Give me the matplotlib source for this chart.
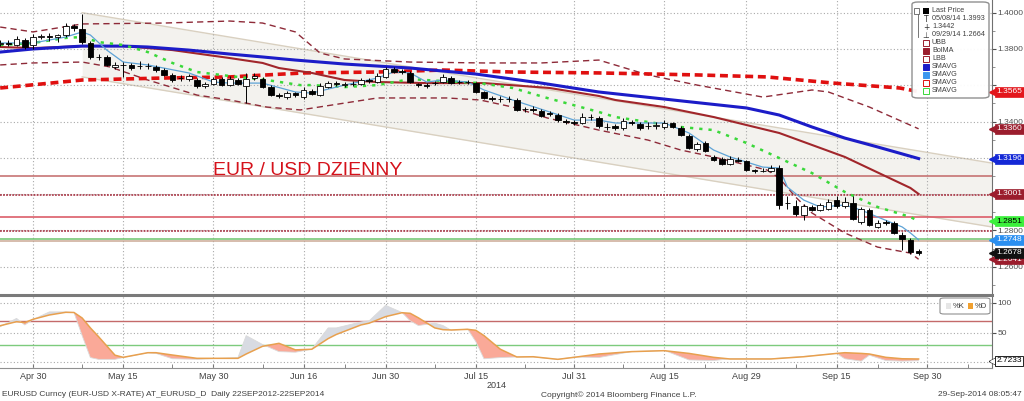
import matplotlib
matplotlib.use('Agg')
import matplotlib.pyplot as plt
import matplotlib.transforms as mtransforms
from matplotlib.patches import FancyBboxPatch, Rectangle
from matplotlib.lines import Line2D
import numpy as np

plt.rcParams['font.family'] = ['Liberation Sans', 'DejaVu Sans']

# trading days, 0 = 30 Apr 2014, 108 = 29 Sep 2014
day = np.arange(-4, 109)

opn = [1.3830, 1.3835, 1.3824, 1.3851, 1.3824, 1.3868, 1.3870, 1.3868, 1.3875, 1.3928,
       1.3912, 1.3835, 1.3758, 1.3758, 1.3702, 1.3713, 1.3713, 1.3705, 1.3707, 1.3702,
       1.3686, 1.3658, 1.3640, 1.3635, 1.3631, 1.3598, 1.3609, 1.3636, 1.3603, 1.3631,
       1.3598, 1.3642, 1.3636, 1.3592, 1.3545, 1.3537, 1.3555, 1.3537, 1.3570, 1.3548,
       1.3592, 1.3612, 1.3600, 1.3607, 1.3609, 1.3630, 1.3620, 1.3648, 1.3691, 1.3678,
       1.3670, 1.3606, 1.3600, 1.3610, 1.3620, 1.3642, 1.3620, 1.3620, 1.3614, 1.3565,
       1.3530, 1.3526, 1.3526, 1.3521, 1.3468, 1.3468, 1.3460, 1.3446, 1.3438, 1.3402,
       1.3396, 1.3394, 1.3427, 1.3422, 1.3372, 1.3377, 1.3366, 1.3398, 1.3388, 1.3377,
       1.3377, 1.3372, 1.3394, 1.3366, 1.3322, 1.3250, 1.3284, 1.3207, 1.3196, 1.3168,
       1.3190, 1.3180, 1.3132, 1.3130, 1.3130, 1.3146, 1.2950, 1.2936, 1.2887, 1.2931,
       1.2915, 1.2920, 1.2969, 1.2936, 1.2953, 1.2849, 1.2915, 1.2821, 1.2845, 1.2843,
       1.2777, 1.2749, 1.2684]
close = [1.3835, 1.3830, 1.3857, 1.3813, 1.3868, 1.3870, 1.3868, 1.3875, 1.3928, 1.3918,
         1.3840, 1.3758, 1.3756, 1.3713, 1.3713, 1.3710, 1.3697, 1.3707, 1.3705, 1.3686,
         1.3658, 1.3631, 1.3642, 1.3650, 1.3598, 1.3609, 1.3636, 1.3603, 1.3636, 1.3609,
         1.3636, 1.3653, 1.3592, 1.3548, 1.3543, 1.3559, 1.3545, 1.3576, 1.3554, 1.3598,
         1.3614, 1.3605, 1.3609, 1.3609, 1.3631, 1.3622, 1.3653, 1.3691, 1.3675, 1.3672,
         1.3620, 1.3602, 1.3598, 1.3614, 1.3647, 1.3614, 1.3618, 1.3618, 1.3565, 1.3532,
         1.3526, 1.3524, 1.3522, 1.3466, 1.3470, 1.3465, 1.3433, 1.3443, 1.3410, 1.3399,
         1.3394, 1.3427, 1.3425, 1.3377, 1.3370, 1.3366, 1.3405, 1.3390, 1.3366, 1.3375,
         1.3379, 1.3394, 1.3372, 1.3328, 1.3256, 1.3278, 1.3240, 1.3190, 1.3168, 1.3196,
         1.3182, 1.3135, 1.3130, 1.3128, 1.3146, 1.2942, 1.2953, 1.2892, 1.2936, 1.2915,
         1.2942, 1.2958, 1.2936, 1.2958, 1.2865, 1.2920, 1.2832, 1.2843, 1.2843, 1.2788,
         1.2755, 1.2680, 1.2678]
high = [1.3850, 1.3850, 1.3870, 1.3860, 1.3885, 1.3885, 1.3890, 1.3885, 1.3945, 1.3940,
        1.3993, 1.3845, 1.3775, 1.3765, 1.3730, 1.3730, 1.3725, 1.3735, 1.3725, 1.3712,
        1.3695, 1.3665, 1.3655, 1.3660, 1.3640, 1.3620, 1.3645, 1.3645, 1.3650, 1.3640,
        1.3670, 1.3670, 1.3645, 1.3600, 1.3560, 1.3570, 1.3565, 1.3590, 1.3580, 1.3610,
        1.3625, 1.3625, 1.3620, 1.3625, 1.3640, 1.3640, 1.3665, 1.3700, 1.3700, 1.3690,
        1.3680, 1.3615, 1.3615, 1.3625, 1.3660, 1.3650, 1.3630, 1.3630, 1.3620, 1.3570,
        1.3540, 1.3540, 1.3540, 1.3530, 1.3480, 1.3485, 1.3470, 1.3460, 1.3445, 1.3415,
        1.3410, 1.3445, 1.3440, 1.3430, 1.3390, 1.3385, 1.3420, 1.3410, 1.3395, 1.3395,
        1.3395, 1.3410, 1.3400, 1.3375, 1.3330, 1.3290, 1.3295, 1.3215, 1.3205, 1.3210,
        1.3205, 1.3190, 1.3140, 1.3145, 1.3160, 1.3160, 1.2990, 1.2970, 1.2945, 1.2940,
        1.2950, 1.2975, 1.2990, 1.2985, 1.2990, 1.2930, 1.2925, 1.2855, 1.2860, 1.2850,
        1.2790, 1.2760, 1.2695]
low = [1.3815, 1.3815, 1.3815, 1.3800, 1.3800, 1.3855, 1.3845, 1.3840, 1.3865, 1.3900,
       1.3830, 1.3745, 1.3740, 1.3705, 1.3690, 1.3648, 1.3685, 1.3690, 1.3690, 1.3675,
       1.3650, 1.3620, 1.3625, 1.3625, 1.3585, 1.3585, 1.3600, 1.3595, 1.3595, 1.3600,
       1.3503, 1.3630, 1.3585, 1.3540, 1.3530, 1.3525, 1.3535, 1.3525, 1.3545, 1.3540,
       1.3585, 1.3595, 1.3590, 1.3595, 1.3600, 1.3612, 1.3610, 1.3640, 1.3665, 1.3660,
       1.3610, 1.3590, 1.3585, 1.3600, 1.3610, 1.3605, 1.3605, 1.3605, 1.3555, 1.3525,
       1.3515, 1.3510, 1.3510, 1.3460, 1.3455, 1.3455, 1.3425, 1.3430, 1.3400, 1.3385,
       1.3380, 1.3385, 1.3410, 1.3365, 1.3355, 1.3355, 1.3355, 1.3380, 1.3355, 1.3360,
       1.3360, 1.3360, 1.3365, 1.3320, 1.3250, 1.3240, 1.3230, 1.3180, 1.3160, 1.3160,
       1.3175, 1.3128, 1.3115, 1.3120, 1.3120, 1.2920, 1.2920, 1.2880, 1.2860, 1.2905,
       1.2905, 1.2910, 1.2925, 1.2925, 1.2860, 1.2835, 1.2825, 1.2815, 1.2830, 1.2780,
       1.2694, 1.2670, 1.2664]

# overlays: (trading day, price)
sma_blue_x = [-4, 0, 6, 11, 14, 19, 24, 28, 32, 38, 46, 54, 62, 69, 78, 87, 91, 95, 99, 103, 108]
sma_blue_y = [1.3783, 1.3800, 1.3816, 1.3816, 1.3811, 1.3794, 1.3772, 1.3756, 1.3739, 1.3717,
              1.3695, 1.3662, 1.3612, 1.3563, 1.3519, 1.3475, 1.3436, 1.3370, 1.3309, 1.3260, 1.3196]
bolma_x = [-4, 0, 6, 11, 17, 24, 28, 30, 34, 38, 42, 48, 55, 63, 69, 71, 77, 83, 91, 99, 107, 108]
bolma_y = [1.3811, 1.3805, 1.3816, 1.3816, 1.3794, 1.3750, 1.3723, 1.3695, 1.3668, 1.3629,
           1.3618, 1.3612, 1.3612, 1.3585, 1.3541, 1.3519, 1.3480, 1.3425, 1.3337, 1.3205, 1.3034, 1.3001]
ubb_x = [-4, 0, 6, 16, 24, 28, 32, 35, 38, 46, 55, 62, 69, 75, 81, 89, 95, 97, 102, 108]
ubb_y = [1.3921, 1.3894, 1.3938, 1.3943, 1.3954, 1.3943, 1.3894, 1.3778, 1.3745, 1.3728,
         1.3723, 1.3723, 1.3739, 1.3657, 1.3601, 1.3535, 1.3574, 1.3563, 1.3480, 1.3360]
lbb_x = [-4, 0, 6, 9.4, 14, 20, 24, 28.5, 32.6, 42, 50.5, 54.5, 58.5, 62.7, 69, 75, 79, 83,
         89.5, 91, 93, 95, 99, 103, 107, 108]
lbb_y = [1.3712, 1.3723, 1.3728, 1.3701, 1.3629, 1.3546, 1.3519, 1.3480, 1.3464, 1.3530,
         1.3530, 1.3519, 1.3480, 1.3420, 1.3353, 1.3298, 1.3243, 1.3205, 1.3133, 1.3089,
         1.2984, 1.2896, 1.2786, 1.2708, 1.2675, 1.2641]
sma_green_x = [-4, 0, 4, 6, 8, 11, 14, 17, 20, 24, 28.5, 32.6, 34, 38, 42, 46, 50, 54.5, 58.5,
               62.7, 69, 71, 79, 83, 87, 91, 95, 99, 103, 107, 108]
sma_green_y = [1.3822, 1.3833, 1.3861, 1.3866, 1.3838, 1.3822, 1.3783, 1.3723, 1.3673, 1.3651,
               1.3629, 1.3601, 1.3601, 1.3590, 1.3601, 1.3634, 1.3623, 1.3612, 1.3585, 1.3530,
               1.3453, 1.3425, 1.3370, 1.3353, 1.3282, 1.3199, 1.3116, 1.3012, 1.2929, 1.2874, 1.2851]
sma_lblue_x = [-4, 0, 4, 6, 7, 9, 11, 14, 19, 22, 24, 28, 32, 34, 38, 42, 44, 46, 48, 50, 53,
               55, 58.5, 63, 66, 69, 71, 77, 80, 83, 85, 89, 91, 92, 94, 96, 99, 101, 103, 106, 107, 108]
sma_lblue_y = [1.3833, 1.3833, 1.3866, 1.3894, 1.3877, 1.3794, 1.3728, 1.3712, 1.3668, 1.3618,
               1.3612, 1.3612, 1.3563, 1.3557, 1.3601, 1.3640, 1.3673, 1.3668, 1.3618, 1.3629,
               1.3618, 1.3574, 1.3519, 1.3453, 1.3408, 1.3408, 1.3392, 1.3392, 1.3337, 1.3243,
               1.3205, 1.3149, 1.3144, 1.3039, 1.2967, 1.2929, 1.2940, 1.2912, 1.2874, 1.2819,
               1.2786, 1.2748]
sma_red_x = [-4, 6, 16, 24, 33, 42, 50, 58.5, 69, 81, 89.5, 97.6, 105.7, 108]
sma_red_y = [1.3585, 1.3629, 1.3640, 1.3646, 1.3668, 1.3673, 1.3684, 1.3673, 1.3668, 1.3657,
             1.3646, 1.3612, 1.3585, 1.3565]

channel_x = [6, 116.95]
channel_top = [1.4000, 1.3171]
channel_bot = [1.3646, 1.2819]

level_vals = [1.3100, 1.2993, 1.2872, 1.2797, 1.2751, 1.2740]
level_colors = ['#c26868', '#a32637', '#d9505c', '#a32637', '#6cc46c', '#cba996']
level_styles = ['-', (0, (1.2, 0.8)), '-', (0, (1.2, 0.8)), '-', '-']

tag_vals = [1.3565, 1.3360, 1.3196, 1.3001, 1.2851, 1.2748, 1.2641, 1.2678]
tag_fill = ['#e3161c', '#9b1d2d', '#1428d6', '#9b1d2d', '#3cf03c', '#2b8ff0', '#9b1d2d', '#111111']
tag_ink = ['white', 'white', 'white', 'white', 'black', 'white', 'white', 'white']

price_ticks = [1.26, 1.28, 1.30, 1.32, 1.34, 1.36, 1.38, 1.40]
price_tick_lbl = ['1.2600', '1.2800', '', '', '1.3400', '', '1.3800', '1.4000']

# stochastics
stoch_x = [-4, -2, -1, 0, 2, 4, 5, 6, 7, 8, 10, 11, 14, 15, 17, 20, 25, 26, 28, 30, 32, 34, 36, 37,
           40, 41, 43, 45, 46, 47, 49, 50, 51, 53, 54, 55, 57, 59, 61, 64, 66, 69, 73, 77, 80, 83,
           85, 90, 94, 98, 99, 101, 102, 104, 106, 108]
pct_d = [61.7, 68.5, 67, 72.5, 79.8, 84.3, 84, 74.7, 58, 43.2, 12, 8.4, 16.2, 16.2, 12.3, 6.7,
         6.7, 14, 27, 32, 21, 22, 40, 47, 63, 66, 77, 83.6, 82.6, 75, 58, 55, 54.5, 55.6, 54, 45,
         22, 9, 9.4, 5, 8.4, 14, 18, 19.6, 15, 8.4, 5.6, 5.6, 9.4, 15, 16.2, 15, 14, 8.4, 6, 5.6]
pct_k = [60, 74, 63, 72, 85, 85, 84, 45, 8, 5, 5, 8, 16, 15, 6, 5, 8, 45, 30, 18, 17, 22, 58, 58,
         68, 70, 96, 84, 70, 62, 66, 62, 54, 56, 35, 6, 8, 9, 9, 5, 9, 8, 18, 20, 4, 3, 6, 6, 10,
         15, 6, 2, 12, 3, 2, 2.7233]

date_pos = [0, 11, 22, 33, 43, 54, 66, 77, 87, 98, 109]
date_lbl = ['Apr 30', 'May 15', 'May 30', 'Jun 16', 'Jun 30', 'Jul 15', 'Jul 31', 'Aug 15',
            'Aug 29', 'Sep 15', 'Sep 30']
week_pos = [6, 17, 28, 38, 49, 60, 72, 82, 93, 103, 114]

legend_rows = ['Last Price', '05/08/14 1.3993', '1.3442', '09/29/14 1.2664', 'UBB', 'BolMA',
               'LBB', 'SMAVG', 'SMAVG', 'SMAVG', 'SMAVG']

W, H = 1024, 401
def fx(x): return x / W
def fy(y): return 1 - y / H

fig = plt.figure(figsize=(W / 100, H / 100), dpi=100)
ax = fig.add_axes([0, fy(295), fx(992), 295 / H])
ax2 = fig.add_axes([0, fy(368), fx(992), 72 / H])
for a in (ax, ax2):
    a.set_xlim(-4.02, 116.95)
    for s in ('top', 'left'):
        a.spines[s].set_visible(False)
    a.spines['right'].set_color('#707070')
ax.spines['bottom'].set_visible(False)
ax2.spines['bottom'].set_color('#909090')
ax.set_ylim(1.2444, 1.4070)
ax2.set_ylim(-9.6, 111.8)

grid_kw = dict(color='#a9a9a9', lw=0.8, ls=(0, (1, 2)), zorder=1.6)
for xv in date_pos:
    ax.axvline(xv, **grid_kw)
    ax2.axvline(xv, **grid_kw)
for yv in price_ticks:
    ax.axhline(yv, **grid_kw)
for yv in (0, 50, 100):
    ax2.axhline(yv, **grid_kw)

# regression channel
ax.fill_between(channel_x, channel_bot, channel_top, color='#f3f2ee', lw=0, zorder=1)
ax.plot(channel_x, channel_top, color='#d9d0c0', lw=1, zorder=1.5)
ax.plot(channel_x, channel_bot, color='#d9d0c0', lw=1, zorder=1.5)

for v, col, st in zip(level_vals, level_colors, level_styles):
    ax.axhline(v, color=col, lw=1.1, ls=st, zorder=2)

ax.plot(ubb_x, ubb_y, color='#8e2a38', lw=1.0, dashes=(4.5, 3), zorder=3)
ax.plot(lbb_x, lbb_y, color='#8e2a38', lw=1.0, dashes=(4.5, 3), zorder=3)
ax.plot(sma_red_x, sma_red_y, color='#e01010', lw=2.6, dashes=(2.2, 1.3), zorder=3.2)
ax.plot(bolma_x, bolma_y, color='#a1262b', lw=1.5, zorder=3.3)
ax.plot(sma_blue_x, sma_blue_y, color='#1c1cc8', lw=2.2, zorder=3.4)
ax.plot(sma_green_x, sma_green_y, color='#3ad83a', lw=1.8, dashes=(1.3, 2.4), zorder=3.5)
ax.plot(sma_lblue_x, sma_lblue_y, color='#5ea3d6', lw=0.9, zorder=3.6)

# candles
o, c, h, l = (np.array(v) for v in (opn, close, high, low))
up = c >= o
ax.vlines(day, l, h, color='black', lw=0.7, zorder=6)
bot = np.minimum(o, c)
hgt = np.maximum(np.abs(c - o), 0.0002)
ax.bar(day[up], hgt[up], 0.68, bottom=bot[up], facecolor='white', edgecolor='black', lw=0.6, zorder=7)
ax.bar(day[~up], hgt[~up], 0.68, bottom=bot[~up], facecolor='black', edgecolor='black', lw=0.6, zorder=7)

ax.text(22.0, 1.3105, 'EUR / USD DZIENNY', color='#d5121b', fontsize=14, va='baseline', zorder=8)

# right axis
ax.yaxis.tick_right()
ax.set_yticks(price_ticks)
ax.set_yticklabels(price_tick_lbl)
ax.set_yticks(np.arange(1.25, 1.401, 0.01), minor=True)
ax.tick_params(axis='y', which='major', length=3, width=0.8, color='#505050', pad=1,
               labelsize=6.0, labelcolor='#505050')
ax.tick_params(axis='y', which='minor', length=2, color='#808080')
ax.tick_params(axis='x', which='both', bottom=False, labelbottom=False)

blend = mtransforms.blended_transform_factory(ax.transAxes, ax.transData)
for k, (v, fc, tc) in enumerate(zip(tag_vals, tag_fill, tag_ink)):
    z = 10 + k * 0.1
    ax.plot([1.0015], [v], marker='<', ms=5.5, color=fc, transform=blend, clip_on=False, zorder=z)
    ax.text(1.0045, v, f'{v:.4f}', transform=blend, ha='left', va='center', fontsize=6.0,
            color=tc, clip_on=False, zorder=z + 0.05,
            bbox=dict(boxstyle='square,pad=0.18', fc=fc, ec=fc, lw=0.5))

# stochastics panel
sx, sk, sd = np.array(stoch_x), np.array(pct_k), np.array(pct_d)
ax2.axhline(70, color='#c46a6a', lw=1.0, zorder=2)
ax2.axhline(30, color='#7dcb7d', lw=1.0, zorder=2)
ax2.fill_between(sx, sk, sd, where=sk >= sd, interpolate=True, color='#d8dbe2', lw=0, zorder=2.5)
ax2.fill_between(sx, sk, sd, where=sk < sd, interpolate=True, color='#faa998', lw=0, zorder=2.5)
ax2.plot(sx, sk, color='#dadada', lw=0.6, zorder=3)
ax2.plot(sx, sd, color='#e8a04e', lw=1.1, zorder=3.2)
ax2.yaxis.tick_right()
ax2.set_yticks([50, 100])
ax2.tick_params(axis='y', length=3, width=0.8, color='#505050', pad=1, labelsize=6.0,
                labelcolor='#505050')
ax2.set_xticks(date_pos)
ax2.set_xticklabels(date_lbl)
ax2.set_xticks(week_pos, minor=True)
ax2.tick_params(axis='x', which='both', direction='in', length=3, color='#707070', pad=3,
                labelsize=6.5, labelcolor='#404040')
blend2 = mtransforms.blended_transform_factory(ax2.transAxes, ax2.transData)
ax2.plot([1.0015], [pct_k[-1]], marker='<', ms=5.5, color='black', transform=blend2, clip_on=False, zorder=9)
ax2.plot([1.0015], [pct_k[-1]], marker='<', ms=4, color='white', transform=blend2, clip_on=False, zorder=9.1)
ax2.text(1.0045, pct_k[-1], f'{pct_k[-1]:.4f}', transform=blend2, ha='left', va='center',
         fontsize=6.0, color='black', clip_on=False, zorder=9.2,
         bbox=dict(boxstyle='square,pad=0.18', fc='white', ec='black', lw=0.6))

# stochastics legend
fig.add_artist(FancyBboxPatch((fx(940), fy(314)), fx(990) - fx(940), fy(298) - fy(314),
                              boxstyle='round,pad=0,rounding_size=0.004', fc='white',
                              ec='#909090', lw=0.8, transform=fig.transFigure))
fig.add_artist(Rectangle((fx(946), fy(309)), 5 / W, 6 / H, fc='#e6e6e6', ec='none', transform=fig.transFigure))
fig.text(fx(953), fy(306), '%K', fontsize=5.5, va='center', color='#404040')
fig.add_artist(Rectangle((fx(968), fy(309)), 5 / W, 6 / H, fc='#f0a030', ec='none', transform=fig.transFigure))
fig.text(fx(975), fy(306), '%D', fontsize=5.5, va='center', color='#404040')

# panel divider
fig.add_artist(Line2D([0, fx(992)], [fy(295), fy(295)], color='#7a7a7a', lw=2.2))

# main legend
fig.add_artist(FancyBboxPatch((fx(912), fy(98)), fx(989) - fx(912), fy(2) - fy(98),
                              boxstyle='round,pad=0,rounding_size=0.006', fc='white',
                              ec='#8a8a8a', lw=1.0, alpha=0.95, transform=fig.transFigure))
rows_y = [11, 19, 27, 35, 43, 51, 59, 67, 75, 83, 91]
for ry, txt in zip(rows_y, legend_rows):
    fig.text(fx(932), fy(ry), txt, fontsize=5.2, va='center', color='#404040')
fig.add_artist(Rectangle((fx(914), fy(14)), 5 / W, 6 / H, fc='white', ec='#606060', lw=0.6, transform=fig.transFigure))
fig.add_artist(Line2D([fx(917.5), fx(917.5)], [fy(14), fy(37)], color='#606060', lw=0.6))
fig.add_artist(Rectangle((fx(923), fy(14)), 6 / W, 6 / H, fc='black', ec='none', transform=fig.transFigure))
for ry, sym in zip(rows_y[1:4], ['T', '+', '\u22a5']):
    fig.text(fx(926), fy(ry), sym, fontsize=5.5, ha='center', va='center', color='#303030',
             family=['DejaVu Sans'])
icon_fill = [None, '#9b1d2d', None, '#1c1cc8', '#3a96ee', None, None]
icon_edge = ['#9b1d2d', '#9b1d2d', '#9b1d2d', '#1c1cc8', '#3a96ee', '#e01010', '#3ad83a']
for ry, fcol, ecol in zip(rows_y[4:], icon_fill, icon_edge):
    fig.add_artist(Rectangle((fx(923), fy(ry + 3)), 6 / W, 6 / H, fc=fcol or 'none', ec=ecol,
                             lw=0.7, transform=fig.transFigure))

# footer
fig.text(fx(497), fy(386), '2014', fontsize=6.5, ha='center', va='center', color='#404040')
fig.text(fx(2), fy(395), 'EURUSD Curncy (EUR-USD X-RATE) AT_EURUSD_D  Daily 22SEP2012-22SEP2014',
         fontsize=6.0, va='center', color='#404040')
fig.text(fx(541), fy(395), 'Copyright\u00a9 2014 Bloomberg Finance L.P.', fontsize=6.0,
         va='center', color='#404040')
fig.text(fx(1022), fy(395), '29-Sep-2014 08:05:47', fontsize=6.0, ha='right', va='center',
         color='#404040')

fig.savefig('out.png', dpi=100, facecolor='white')
